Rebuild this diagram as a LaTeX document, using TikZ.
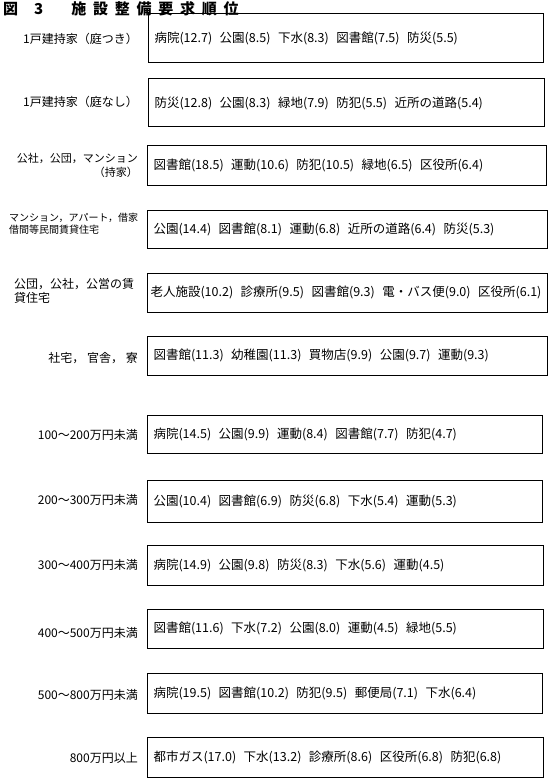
\documentclass[tikz,border=0pt]{standalone}
\usepackage{fontspec}
\usepackage{tikz}
\newfontfamily\jp{Noto Sans CJK JP}

\tikzset{
  box/.style={draw,line width=1pt,anchor=west,inner xsep=6pt,align=left,
    font=\jp\fontsize{12.5}{14}\selectfont},
  lab/.style={anchor=east,inner sep=0pt,align=right,font=\jp\fontsize{12}{14}\selectfont},
}
\newcommand{\gap}{\hspace{0.6em}}

\begin{document}
\begin{tikzpicture}[x=1pt,y=-1pt]
\useasboundingbox (0,0) rectangle (550,781);
\node[anchor=base west,inner sep=0pt,font=\jp\bfseries\fontsize{15}{15}\selectfont\addfontfeatures{LetterSpace=45}] (title) at (3,15) {図\hspace{16pt}3\hspace{28pt}施設整備要求順位};

\node[box,text width=383pt,minimum height=49pt] (b1) at (148,38.5) {病院(12.7)\gap 公園(8.5)\gap 下水(8.3)\gap 図書館(7.5)\gap 防災(5.5)};
\node[box,text width=384pt,minimum height=48pt] (b2) at (148,103) {防災(12.8)\gap 公園(8.3)\gap 緑地(7.9)\gap 防犯(5.5)\gap 近所の道路(5.4)};
\node[box,text width=387pt,minimum height=40pt] (b3) at (147,165) {図書館(18.5)\gap 運動(10.6)\gap 防犯(10.5)\gap 緑地(6.5)\gap 区役所(6.4)};
\node[box,text width=388pt,minimum height=38pt] (b4) at (147,229) {公園(14.4)\gap 図書館(8.1)\gap 運動(6.8)\gap 近所の道路(6.4)\gap 防災(5.3)};
\node[box,text width=394pt,inner xsep=3pt,minimum height=39pt] (b5) at (147,292.5) {老人施設(10.2)\gap 診療所(9.5)\gap 図書館(9.3)\gap 電・バス便(9.0)\gap 区役所(6.1)};
\node[box,text width=388pt,minimum height=39pt] (b6) at (147,355.5) {図書館(11.3)\gap 幼稚園(11.3)\gap 買物店(9.9)\gap 公園(9.7)\gap 運動(9.3)};

\node[box,text width=383pt,minimum height=38pt] (b7) at (147,434) {病院(14.5)\gap 公園(9.9)\gap 運動(8.4)\gap 図書館(7.7)\gap 防犯(4.7)};
\node[box,text width=383pt,minimum height=42pt] (b8) at (147,501) {公園(10.4)\gap 図書館(6.9)\gap 防災(6.8)\gap 下水(5.4)\gap 運動(5.3)};
\node[box,text width=384pt,minimum height=40pt] (b9) at (147,565) {病院(14.9)\gap 公園(9.8)\gap 防災(8.3)\gap 下水(5.6)\gap 運動(4.5)};
\node[box,text width=384pt,minimum height=39pt] (b10) at (147,628.5) {図書館(11.6)\gap 下水(7.2)\gap 公園(8.0)\gap 運動(4.5)\gap 緑地(5.5)};
\node[box,text width=383pt,minimum height=40pt] (b11) at (147,693) {病院(19.5)\gap 図書館(10.2)\gap 防犯(9.5)\gap 郵便局(7.1)\gap 下水(6.4)};
\node[box,text width=384pt,minimum height=40pt] (b12) at (147,757) {都市ガス(17.0)\gap 下水(13.2)\gap 診療所(8.6)\gap 区役所(6.8)\gap 防犯(6.8)};

\node[lab] (l1) at (138,39) {1戸建持家（庭つき）};
\node[lab] (l2) at (138,102) {1戸建持家（庭なし）};
\node[lab,font=\jp\fontsize{11}{14}\selectfont] (l3) at (138,165) {公社，公団，マンション\\（持家）};
\node[lab,anchor=west,align=left,font=\jp\fontsize{10}{12}\selectfont] (l4) at (9,224) {マンション，アパート，借家\\借間等民間賃貸住宅};
\node[lab,anchor=west,align=left] (l5) at (14,291) {公団，公社，公営の賃\\貸住宅};
\node[lab] (l6) at (138,358) {社宅，\ 官舎，\ 寮};
\node[lab] (l7) at (138,435) {100～200万円未満};
\node[lab] (l8) at (138,500) {200～300万円未満};
\node[lab] (l9) at (138,565) {300～400万円未満};
\node[lab] (l10) at (138,633) {400～500万円未満};
\node[lab] (l11) at (138,695) {500～800万円未満};
\node[lab] (l12) at (138,758) {800万円以上};
\end{tikzpicture}
\end{document}
